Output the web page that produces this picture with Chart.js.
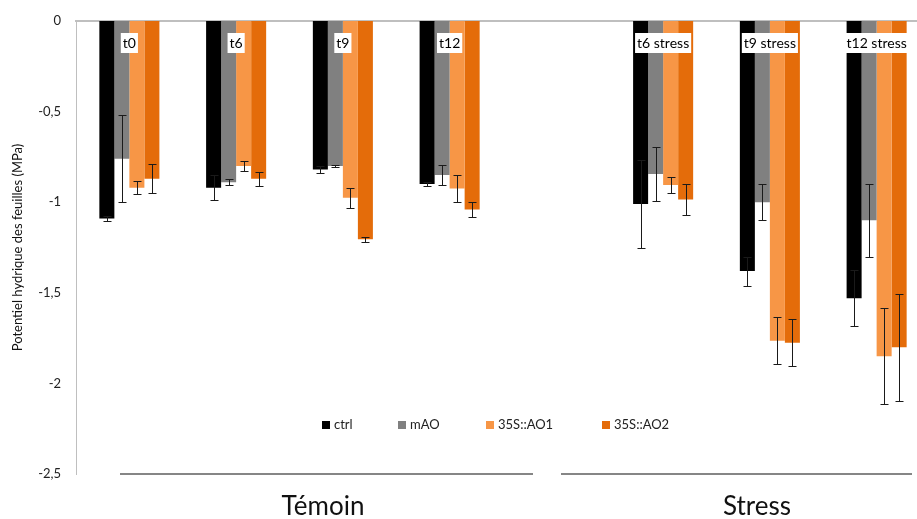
<!DOCTYPE html>
<html>
<head>
<meta charset="utf-8">
<script src="https://cdn.jsdelivr.net/npm/chart.js@4"></script>
<style>
  body { margin: 0; overflow: hidden; background: #fff; }
  #wrap { position: relative; width: 932px; height: 519px; }
</style>
</head>
<body>
<div id="wrap"><canvas id="chart"></canvas></div>
<script>
// categories (empty slot separates Témoin and Stress groups)
const categories = ['t0', 't6', 't9', 't12', '', 't6 stress', 't9 stress', 't12 stress'];

const ctrl    = [-1.09, -0.92, -0.82, -0.90, null, -1.01, -1.38, -1.53];
const ctrlErr = [0.015, 0.07, 0.02, 0.012, null, 0.245, 0.08, 0.155];
const mAO     = [-0.76, -0.89, -0.80, -0.85, null, -0.845, -1.00, -1.10];
const mAOErr  = [0.24, 0.016, 0.005, 0.053, null, 0.148, 0.10, 0.20];
const ao1     = [-0.92, -0.80, -0.975, -0.925, null, -0.905, -1.765, -1.85];
const ao1Err  = [0.035, 0.03, 0.055, 0.075, null, 0.046, 0.13, 0.265];
const ao2     = [-0.87, -0.87, -1.205, -1.04, null, -0.985, -1.775, -1.80];
const ao2Err  = [0.08, 0.038, 0.015, 0.04, null, 0.084, 0.13, 0.295];

const yTicks = [0, -0.5, -1, -1.5, -2, -2.5];
const groupNames = ['Témoin', 'Stress'];

const FONT = 'Lato, "Open Sans", sans-serif';

// drawn after each dataset so that later bars cover earlier caps
const errorBars = {
    id: 'errorBars',
    afterDatasetDraw(chart, args) {
        const ctx = chart.ctx, y = chart.scales.y;
        const ds = chart.data.datasets[args.index];
        const meta = args.meta;
        ctx.save();
        ctx.strokeStyle = '#1a1a1a';
        ctx.lineWidth = 1;
        ds.data.forEach((v, j) => {
            if (v == null) return;
            const e = ds.err[j];
            const x = Math.round(meta.data[j].x) + 0.5;
            const y1 = Math.round(y.getPixelForValue(v + e)) + 0.5;
            const y2 = Math.round(y.getPixelForValue(v - e)) + 0.5;
            ctx.beginPath();
            ctx.moveTo(x, y1); ctx.lineTo(x, y2);
            ctx.moveTo(x - 4, y1); ctx.lineTo(x + 4, y1);
            ctx.moveTo(x - 4, y2); ctx.lineTo(x + 4, y2);
            ctx.stroke();
        });
        ctx.restore();
    }
};

const decorations = {
    id: 'decorations',
    afterDraw(chart) {
        const ctx = chart.ctx, x = chart.scales.x;
        ctx.save();
        // category labels just under the zero line
        ctx.font = '14px ' + FONT;
        ctx.textAlign = 'center';
        ctx.textBaseline = 'middle';
        categories.forEach((c, j) => {
            if (!c) return;
            const px = x.getPixelForValue(j);
            const w = ctx.measureText(c).width;
            ctx.fillStyle = '#fff';
            ctx.fillRect(px - w / 2 - 2, 33, w + 4, 20);
            ctx.fillStyle = '#000';
            ctx.fillText(c, px, 43);
        });

        // legend
        ctx.font = '13px ' + FONT;
        ctx.textAlign = 'left';
        const lx = [322, 398, 486, 602];
        chart.data.datasets.forEach((ds, i) => {
            ctx.fillStyle = ds.backgroundColor;
            ctx.fillRect(lx[i], 421, 8, 8);
            ctx.fillStyle = '#222';
            ctx.fillText(ds.label, lx[i] + 12, 425);
        });

        // group lines and names
        ctx.strokeStyle = '#868686';
        ctx.lineWidth = 2;
        ctx.beginPath();
        ctx.moveTo(120, 474); ctx.lineTo(533, 474);
        ctx.moveTo(561, 474); ctx.lineTo(912, 474);
        ctx.stroke();
        ctx.font = '26px ' + FONT;
        ctx.textAlign = 'center';
        ctx.fillStyle = '#111';
        ctx.fillText(groupNames[0], 323, 507);
        ctx.fillText(groupNames[1], 757, 507);
        ctx.restore();
    }
};

new Chart(document.getElementById('chart'), {
    type: 'bar',
    data: {
        labels: categories,
        datasets: [
            { label: 'ctrl', data: ctrl, err: ctrlErr, backgroundColor: '#000000' },
            { label: 'mAO', data: mAO, err: mAOErr, backgroundColor: '#808080' },
            { label: '35S::AO1', data: ao1, err: ao1Err, backgroundColor: '#F79646' },
            { label: '35S::AO2', data: ao2, err: ao2Err, backgroundColor: '#E46C0A' }
        ]
    },
    options: {
        responsive: true,
        maintainAspectRatio: false,
        animation: false,
        datasets: { bar: { barPercentage: 1, categoryPercentage: 0.5625 } },
        layout: { padding: { top: 13, bottom: 45, left: 0, right: 2 } },
        plugins: { legend: { display: false }, tooltip: { enabled: false } },
        scales: {
            x: {
                position: 'top',
                grid: { display: false },
                ticks: { display: false },
                border: { display: true, color: '#bfbfbf', width: 2 }
            },
            y: {
                min: -2.5,
                max: 0,
                afterBuildTicks: s => { s.ticks = yTicks.map(v => ({ value: v })); },
                afterFit: s => { s.width = 76; },
                grid: { display: false },
                border: { display: true, color: '#bfbfbf', width: 1 },
                ticks: {
                    padding: 7,
                    color: '#222',
                    font: { family: FONT, size: 13 },
                    callback: v => String(v).replace('.', ',')
                },
                title: {
                    display: true,
                    text: 'Potentiel hydrique des feuilles (MPa)',
                    color: '#111',
                    font: { family: FONT, size: 13 },
                    padding: { top: 10, bottom: 0 }
                }
            }
        }
    },
    plugins: [errorBars, decorations]
});
</script>
</body>
</html>
